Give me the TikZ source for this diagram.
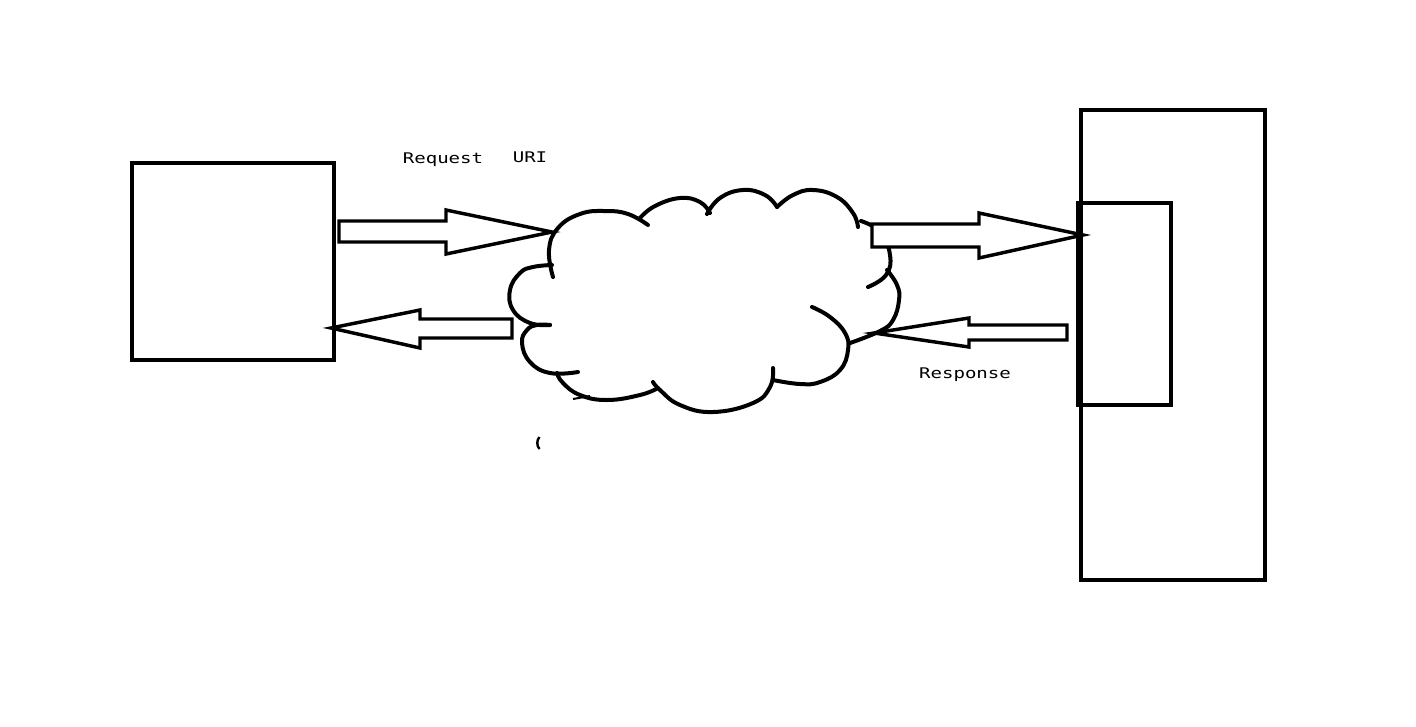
\documentclass[tikz,border=0pt]{standalone}
\usepackage{fontspec}
\newfontfamily\monof[FakeStretch=1.3]{DejaVu Sans Mono}
\begin{document}
\begin{tikzpicture}[x=0.75pt,y=-0.75pt,
  box/.style={draw=black,line width=3pt,fill=none,inner sep=0pt},
  cloudline/.style={draw=black,line width=3pt,line cap=round},
  blockarrow/.style={draw=black,line width=2.6pt,line join=miter,fill=white},
  lbl/.style={font=\monof\fontsize{11}{13}\selectfont,inner sep=0pt,anchor=base}]
\useasboundingbox[fill=white] (0,0) rectangle (1416,726);
% boxes
\node[box,minimum width=151.5pt,minimum height=147.75pt] (client) at (233,261.5) {};
\node[box,minimum width=138pt,minimum height=352.5pt] (server) at (1173,345) {};
\node[box,minimum width=69.75pt,minimum height=151.5pt] (inner) at (1124.5,304) {};
% cloud
\node[inner sep=0pt,minimum size=0pt] (cloud) at (705,300) {};
\draw[cloudline] plot[smooth,tension=0.75] coordinates {(553,277) (549,250) (558,228) (580,214) (605,211) (628,214) (648,225)};
\draw[cloudline] plot[smooth,tension=0.75] coordinates {(640,218) (655,206) (680,198) (700,202) (710,213)};
\draw[cloudline] plot[smooth,tension=0.75] coordinates {(707,214) (720,198) (743,190) (765,195) (777,207)};
\draw[cloudline] plot[smooth,tension=0.75] coordinates {(777,207) (793,195) (813,190) (837,197) (853,213) (858,227)};
\draw[cloudline] plot[smooth,tension=0.75] coordinates {(861,221) (880,232) (890,255) (886,275) (868,287)};
\draw[cloudline] plot[smooth,tension=0.75] coordinates {(887,270) (897,285) (899,300) (893,320) (880,331) (850,343)};
\draw[cloudline] plot[smooth,tension=0.75] coordinates {(812,307) (830,317) (845,333) (848,350) (840,370) (820,382) (800,384) (773,380)};
\draw[cloudline] plot[smooth,tension=0.75] coordinates {(773,368) (770,387) (753,403) (713,412) (680,405) (660,390) (653,382)};
\draw[cloudline] plot[smooth,tension=0.75] coordinates {(658,388) (640,395) (607,400) (580,395) (563,383) (557,373)};
\draw[cloudline] plot[smooth,tension=0.75] coordinates {(578,372) (550,373) (530,362) (522,343) (527,330) (537,325) (550,325)};
\draw[cloudline] plot[smooth,tension=0.75] coordinates {(550,325) (530,323) (513,310) (510,290) (520,273) (533,267) (552,265)};
\draw[line width=1.5pt] (573,399) -- (590,396);
\draw[line width=1.8pt] (539.5,437) .. controls (536.5,440) and (536.5,446) .. (539.5,449);
% block arrows
\draw[blockarrow] (339,221) -- (446,221) -- (446,210) -- (552,232) -- (446,254) -- (446,242) -- (339,242) -- cycle;
\draw[blockarrow] (512,319) -- (420,319) -- (420,310) -- (331,328) -- (420,348) -- (420,338) -- (512,338) -- cycle;
\draw[blockarrow] (872,224) -- (979,224) -- (979,213) -- (1083,235) -- (979,258) -- (979,247) -- (872,247) -- cycle;
\draw[blockarrow] (1067,325) -- (969,325) -- (969,318) -- (874,333) -- (969,347) -- (969,340) -- (1067,340) -- cycle;
% labels
\node[lbl] (req) at (443,163) {Request};
\node[lbl] (uri) at (530,162) {URI};
\node[lbl] (resp) at (965,378) {Response};
\end{tikzpicture}
\end{document}
